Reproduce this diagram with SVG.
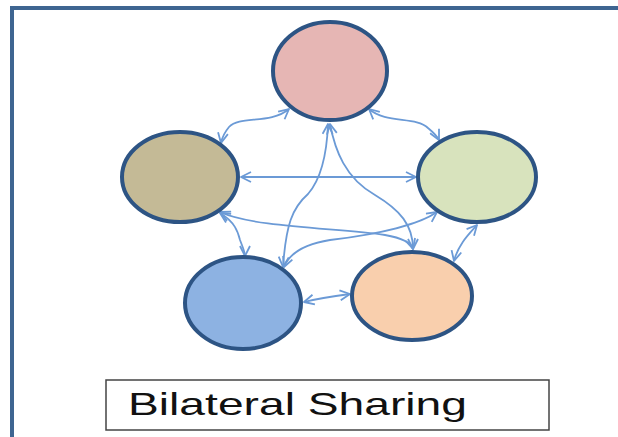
<svg xmlns="http://www.w3.org/2000/svg" width="618" height="437" viewBox="0 0 618 437">
  <style>
    .node { stroke: #2d5484; stroke-width: 4; }
    .link { fill: none; stroke: #6b9ad6; stroke-width: 1.8; marker-start: url(#arr); marker-end: url(#arr); }
    .label { font-family: "Liberation Sans", Arial, sans-serif; font-size: 32px; fill: #111; }
  </style>
  <defs>
    <marker id="arr" viewBox="0 0 12 12" refX="11" refY="6" markerWidth="12" markerHeight="12" markerUnits="userSpaceOnUse" orient="auto-start-reverse">
      <path d="M1,1 L11,6 L1,11" fill="none" stroke="#6b9ad6" stroke-width="1.8" stroke-linejoin="round"/>
    </marker>
  </defs>
  <rect width="618" height="437" fill="#ffffff"/>
  <!-- outer frame -->
  <rect x="12" y="8" width="640" height="460" fill="none" stroke="#3e6591" stroke-width="4"/>

  <g id="connectors">
    <path class="link" d="M289,109 C270,125 240,115 229,127 C224,133 222,138 221,143"/>
    <path class="link" d="M369,109 C386,124 416,116 428,128 C434,133 437,136 439,140"/>
    <path class="link" d="M241,177 L416,177"/>
    <path class="link" d="M328,124 C327,150 322,178 308,194 C292,208 286,225 283,267"/>
    <path class="link" d="M330,124 C335,150 345,178 375,195 C400,210 413,225 413,249"/>
    <path class="link" d="M220,212 C255,228 340,228 385,235 C402,238 411,242 413,249"/>
    <path class="link" d="M437,212 C420,224 380,234 330,240 C305,244 290,252 284,267"/>
    <path class="link" d="M220,213 C235,222 238,232 240,240 C243,248 245,252 245,256"/>
    <path class="link" d="M477,225 C468,235 458,245 454,261"/>
    <path class="link" d="M304,302 C320,298 335,296 350,294"/>
  </g>

  <g id="node-top"><ellipse class="node" cx="330" cy="71" rx="57" ry="49" fill="#e6b6b4"/></g>
  <g id="node-left"><ellipse class="node" cx="180" cy="177" rx="58" ry="45" fill="#c4ba96"/></g>
  <g id="node-right"><ellipse class="node" cx="477" cy="177" rx="59" ry="45" fill="#d8e3bd"/></g>
  <g id="node-bottom-left"><ellipse class="node" cx="243" cy="303" rx="58" ry="46" fill="#8db2e2"/></g>
  <g id="node-bottom-right"><ellipse class="node" cx="412" cy="296" rx="60" ry="44" fill="#f9cfad"/></g>

  <g id="caption">
    <rect x="106" y="380" width="443" height="50" fill="#ffffff" stroke="#444444" stroke-width="1.5"/>
    <text class="label" x="128" y="415" textLength="339" lengthAdjust="spacingAndGlyphs">Bilateral Sharing</text>
  </g>
</svg>
